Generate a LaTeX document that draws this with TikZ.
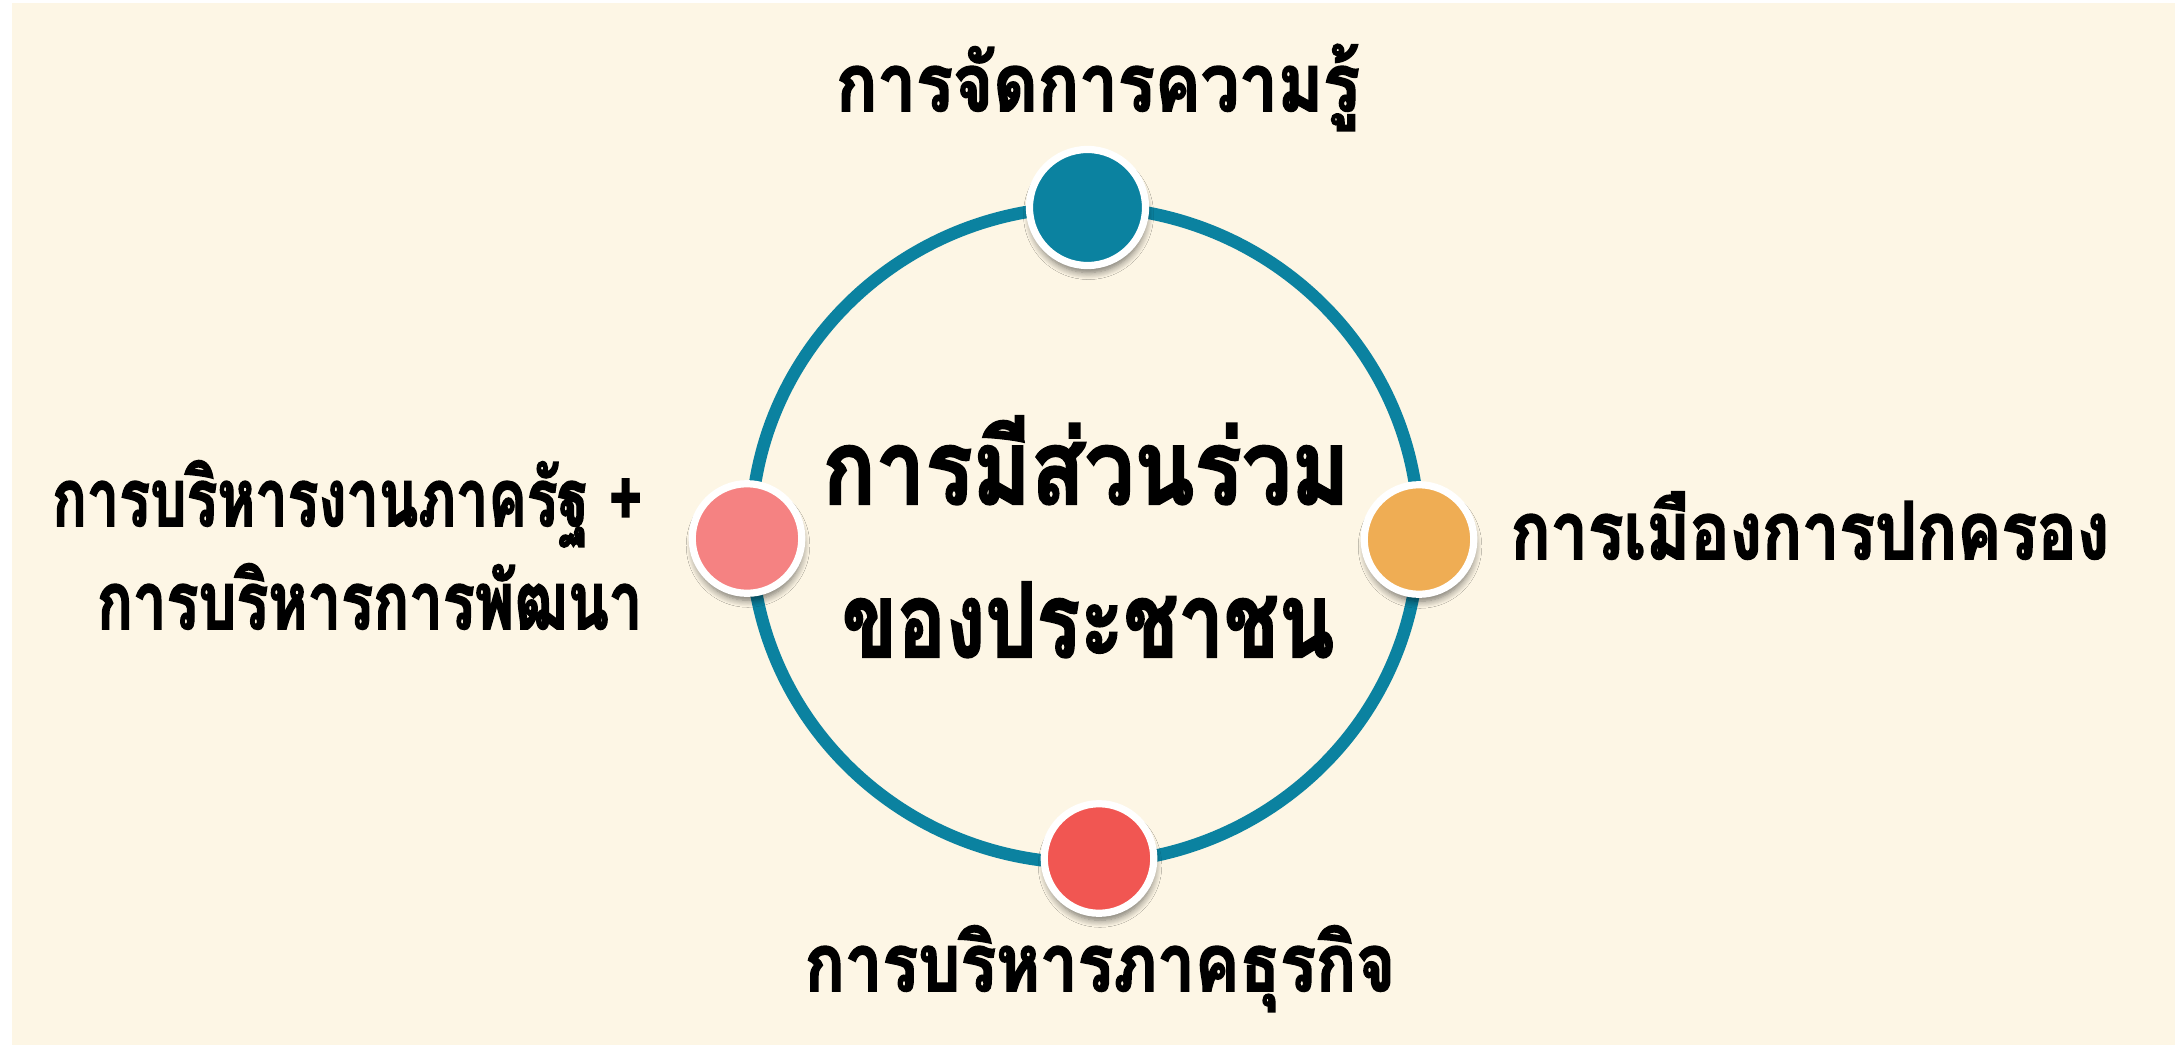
\documentclass[tikz,border=0pt]{standalone}
\usepackage{graphicx}
\usepackage{fontspec}
\newfontfamily\thaifont[Script=Thai, BoldFeatures={FakeBold=2.2}]{Loma}
\usetikzlibrary{shadows.blur}
\definecolor{bgcream}{RGB}{253,246,229}
\definecolor{ringteal}{RGB}{11,130,160}
\definecolor{dotpink}{RGB}{245,130,130}
\definecolor{dotorange}{RGB}{239,173,84}
\definecolor{dotred}{RGB}{241,86,82}
\newcommand{\squeeze}[2]{\scalebox{#1}[1]{#2}}
\begin{document}
\begin{tikzpicture}[x=0.01cm,y=-0.01cm,
  dot/.style={circle, draw=white, line width=0.072cm, inner sep=0pt, minimum size=1.095cm,
    blur shadow={shadow xshift=0.01cm, shadow yshift=-0.07cm, shadow blur radius=0.07cm, shadow blur steps=8, shadow opacity=55}},
  lbl/.style={font=\thaifont\bfseries\fontsize{22.7}{27}\selectfont, inner sep=0pt, text=black},
  ttl/.style={font=\thaifont\bfseries\fontsize{29.5}{35}\selectfont, inner sep=0pt, text=black}]
\useasboundingbox (0,0) rectangle (2182,1046);
\fill[white] (0,0) rectangle (2182,1046);
\fill[bgcream] (12,3) rectangle (2175,1045);
\draw[ringteal, line width=0.125cm] (1085,535) ellipse [x radius=334, y radius=328];
\node[dot, fill=ringteal, minimum size=1.16cm] (km) at (1087.5,207.5) {};
\node[dot, fill=dotpink] (pa) at (747,538.5) {};
\node[dot, fill=dotorange] (po) at (1419,539.5) {};
\node[dot, fill=dotred] (bu) at (1099,858.5) {};
\node[lbl, anchor=base] (tkm) at (1098,111) {\squeeze{0.86}{การจัดการความรู้}};
\node[ttl, anchor=base] (c1) at (1086,504) {\squeeze{0.85}{การมีส่วนร่วม}};
\node[ttl, anchor=base] (c2) at (1088,657) {\squeeze{0.78}{ของประชาชน}};
\node[lbl, anchor=base west] (tpo) at (1510,559) {\squeeze{0.83}{การเมืองการปกครอง}};
\node[lbl, anchor=base east] (tpa1) at (643,526) {\squeeze{0.72}{การบริหารงานภาครัฐ +}};
\node[lbl, anchor=base east] (tpa2) at (643,629) {\squeeze{0.747}{การบริหารการพัฒนา}};
\node[lbl, anchor=base] (tbu) at (1100,991) {\squeeze{0.835}{การบริหารภาคธุรกิจ}};
\end{tikzpicture}
\end{document}
